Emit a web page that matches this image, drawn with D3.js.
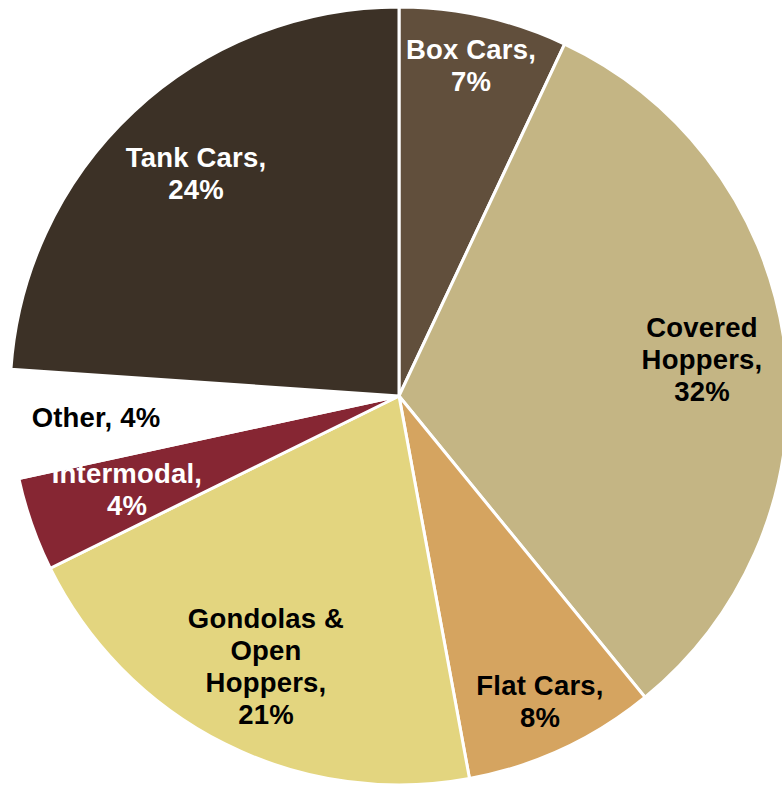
<!DOCTYPE html>
<html><head><meta charset="utf-8">
<script src="https://cdn.jsdelivr.net/npm/d3@7"></script>
<style>html,body{margin:0;padding:0;background:#fff;overflow:hidden}</style>
</head><body>
<svg id="c" width="782" height="785"></svg>
<script>
const categories = ["Box Cars","Covered Hoppers","Flat Cars","Gondolas & Open Hoppers","Intermodal","Other","Tank Cars"];
const values = [7.0, 32.1, 8.0, 20.6, 3.9, 4.5, 23.9];
const pctLabels = ["7%","32%","8%","21%","4%","4%","24%"];
const colors = ["#614f3c","#c4b584","#d5a460","#e3d57f","#862633","#ffffff","#3c3126"];
const textColors = ["#fff","#000","#000","#000","#fff","#000","#fff"];
const labelLines = [["Box Cars,","7%"],["Covered","Hoppers,","32%"],["Flat Cars,","8%"],["Gondolas &","Open","Hoppers,","21%"],["Intermodal,","4%"],["Other, 4%"],["Tank Cars,","24%"]];
const labelPos = [[471,59],[702,337],[540,695],[266,628],[127,483],[96,427],[196,167]];

const svg = d3.select("#c");
const cx = 399, cy = 396, r = 389;
const g = svg.append("g").attr("transform",`translate(${cx},${cy})`);
const pie = d3.pie().sort(null).value(d=>d.v);
const data = categories.map((c,i)=>({c, v: values[i], i}));
const arc = d3.arc().innerRadius(0).outerRadius(r);
g.selectAll("path").data(pie(data)).join("path")
  .attr("d", arc)
  .attr("fill", d=>colors[d.data.i])
  .attr("stroke","#fff").attr("stroke-width",3).attr("stroke-linejoin","miter");

const lab = svg.append("g").attr("font-family","'Liberation Sans', Arial, sans-serif")
  .attr("font-weight","bold").attr("font-size","27.5px").attr("letter-spacing","0.2px").attr("text-anchor","middle");
labelLines.forEach((lines,i)=>{
  const t = lab.append("text").attr("fill", textColors[i]);
  lines.forEach((ln,j)=>{
    t.append("tspan").attr("x", labelPos[i][0]).attr("y", labelPos[i][1] + j*32).text(ln);
  });
});
</script>
</body></html>
